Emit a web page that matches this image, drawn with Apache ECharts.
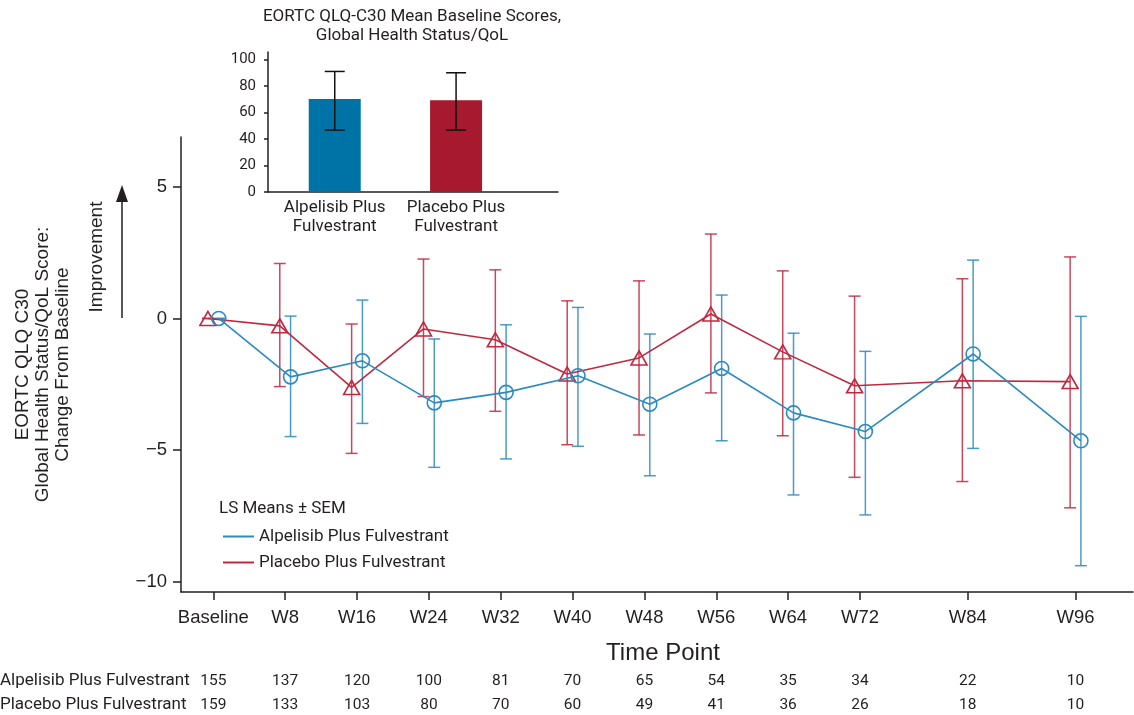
<!DOCTYPE html>
<html>
<head>
<meta charset="utf-8">
<script src="https://cdn.jsdelivr.net/npm/echarts@6/dist/echarts.min.js"></script>
<style>html,body{margin:0;padding:0;background:#fff;}#c{width:1134px;height:715px;}</style>
</head>
<body>
<div id="c"></div>
<script>
// ---- data ----
const weeks = [0, 8, 16, 24, 32, 40, 48, 56, 64, 72, 84, 96];
const timeLabels = ['Baseline', 'W8', 'W16', 'W24', 'W32', 'W40', 'W48', 'W56', 'W64', 'W72', 'W84', 'W96'];
const alpMean  = [0, -2.22, -1.61, -3.21, -2.81, -2.18, -3.26, -1.90, -3.59, -4.30, -1.35, -4.65];
const alpUpper = [0,  0.09,  0.70, -0.78, -0.24,  0.42, -0.59,  0.89, -0.56, -1.25,  2.22,  0.08];
const alpLower = [0, -4.49, -3.99, -5.66, -5.34, -4.86, -5.98, -4.65, -6.71, -7.47, -4.94, -9.40];
const plaMean  = [0, -0.28, -2.62, -0.40, -0.81, -2.11, -1.50,  0.17, -1.27, -2.56, -2.37, -2.40];
const plaUpper = [0,  2.09, -0.21,  2.26,  1.85,  0.67,  1.43,  3.21,  1.81,  0.85,  1.51,  2.34];
const plaLower = [0, -2.59, -5.13, -2.97, -3.53, -4.80, -4.43, -2.83, -4.46, -6.04, -6.20, -7.20];
const alpCounts = [155, 137, 120, 100, 81, 70, 65, 54, 35, 34, 22, 10];
const plaCounts = [159, 133, 103, 80, 70, 60, 49, 41, 36, 26, 18, 10];
const yTicks = [-10, -5, 0, 5];

const insetCats = ['Alpelisib Plus\nFulvestrant', 'Placebo Plus\nFulvestrant'];
const insetMean = [70.2, 69.4];
const insetLow  = [46.8, 46.8];
const insetHigh = [91.1, 90.1];
const insetTicks = [0, 20, 40, 60, 80, 100];

const seriesNames = ['Alpelisib Plus Fulvestrant', 'Placebo Plus Fulvestrant'];

// ---- style ----
const BLUE = '#2b8abf', RED = '#c0283f';
const BAR_BLUE = '#0073a6', BAR_RED = '#a6192e';
const TXT = '#231f20';
const DODGE = 0.6;

function errBars(color, capW, width, opacity) {
  return function (params, api) {
    const x = api.value(0), lo = api.value(1), hi = api.value(2);
    const a = api.coord([x, lo]), b = api.coord([x, hi]);
    const st = { stroke: color, lineWidth: width, opacity: opacity };
    return { type: 'group', children: [
      { type: 'line', shape: { x1: a[0], y1: a[1], x2: b[0], y2: b[1] }, style: st },
      { type: 'line', shape: { x1: a[0] - capW / 2, y1: a[1], x2: a[0] + capW / 2, y2: a[1] }, style: st },
      { type: 'line', shape: { x1: b[0] - capW / 2, y1: b[1], x2: b[0] + capW / 2, y2: b[1] }, style: st }
    ]};
  };
}

const chart = echarts.init(document.getElementById('c'), null, { renderer: 'canvas' });

const option = {
  animation: false,
  backgroundColor: '#fff',
  textStyle: { fontFamily: 'Liberation Sans, Arial, sans-serif', color: TXT },
  grid: [
    { left: 181, right: 1, top: 137, bottom: 123 },
    { left: 268, right: 576, top: 52, bottom: 523 }
  ],
  legend: {
    orient: 'vertical', left: 218, top: 523, itemGap: 9,
    itemWidth: 31, itemHeight: 2, icon: 'rect',
    textStyle: { fontFamily: 'Roboto, sans-serif', fontSize: 17, color: TXT },
    data: [
      { name: seriesNames[0], icon: 'rect', itemStyle: { color: BLUE, borderWidth: 0 } },
      { name: seriesNames[1], icon: 'rect', itemStyle: { color: RED, borderWidth: 0 } }
    ]
  },
  xAxis: [
    {
      type: 'value', gridIndex: 0, min: -3.6, max: 102.4,
      axisLine: { onZero: false, lineStyle: { color: TXT, width: 1.5 } },
      axisTick: { customValues: weeks, length: 8, lineStyle: { color: TXT, width: 1.5 } },
      axisLabel: { customValues: weeks, margin: 16, fontSize: 18.5, color: TXT,
        formatter: v => timeLabels[weeks.indexOf(v)] },
      splitLine: { show: false },
      name: 'Time Point', nameLocation: 'middle', nameGap: 49,
      nameTextStyle: { fontSize: 24, color: TXT, padding: [0, 0, 0, 12] }
    },
    {
      type: 'value', gridIndex: 0, min: -3.6, max: 102.4, position: 'bottom', offset: 89,
      axisLine: { show: false, onZero: false }, axisTick: { show: false }, splitLine: { show: false },
      axisLabel: { customValues: weeks, margin: 0, verticalAlign: 'middle', fontSize: 15.5, color: TXT,
        fontFamily: 'Roboto, sans-serif', formatter: v => String(alpCounts[weeks.indexOf(v)]) }
    },
    {
      type: 'value', gridIndex: 0, min: -3.6, max: 102.4, position: 'bottom', offset: 113,
      axisLine: { show: false, onZero: false }, axisTick: { show: false }, splitLine: { show: false },
      axisLabel: { customValues: weeks, margin: 0, verticalAlign: 'middle', fontSize: 15.5, color: TXT,
        fontFamily: 'Roboto, sans-serif', formatter: v => String(plaCounts[weeks.indexOf(v)]) }
    },
    {
      type: 'value', gridIndex: 1, min: 0.45, max: 2.84,
      axisLine: { onZero: false, lineStyle: { color: TXT, width: 1.5 } },
      axisTick: { show: false }, splitLine: { show: false },
      axisLabel: { customValues: [1, 2], margin: 6, fontSize: 17, lineHeight: 19, color: TXT,
        fontFamily: 'Roboto, sans-serif', formatter: v => insetCats[v - 1] }
    }
  ],
  yAxis: [
    {
      type: 'value', gridIndex: 0, min: -10.4, max: 6.9,
      axisLine: { show: true, onZero: false, lineStyle: { color: TXT, width: 1.5 } },
      axisTick: { show: true, customValues: yTicks, length: 8, lineStyle: { color: TXT, width: 1.5 } },
      axisLabel: { customValues: yTicks, margin: 14, fontSize: 18.5, color: TXT,
        formatter: v => String(v).replace('-', '\u2212') },
      splitLine: { show: false },
      name: 'EORTC QLQ C30\nGlobal Health Status/QoL Score:\nChange From Baseline',
      nameLocation: 'middle', nameRotate: 90, nameGap: 108,
      nameTextStyle: { fontSize: 19, lineHeight: 20, color: TXT, align: 'center' }
    },
    {
      type: 'value', gridIndex: 1, min: 0, max: 105.8,
      axisLine: { show: true, onZero: false, lineStyle: { color: TXT, width: 1.5 } },
      axisTick: { show: true, customValues: insetTicks, length: 4, lineStyle: { color: TXT, width: 1.5 } },
      axisLabel: { customValues: insetTicks, margin: 12, fontSize: 15, color: TXT, fontFamily: 'Roboto, sans-serif' },
      splitLine: { show: false }
    }
  ],
  graphic: [
    { type: 'text', left: 0, top: 672, style: { text: seriesNames[0], font: '17px Roboto, sans-serif', fill: TXT } },
    { type: 'text', left: 0, top: 696, style: { text: seriesNames[1], font: '17px Roboto, sans-serif', fill: TXT } },
    { type: 'text', left: 219, top: 500, style: { text: 'LS Means \u00b1 SEM', font: '17px Roboto, sans-serif', fill: TXT } },
    { type: 'text', x: 97, y: 257, rotation: Math.PI / 2,
      style: { text: 'Improvement', font: '19px "Liberation Sans", Arial, sans-serif', fill: TXT, align: 'center', verticalAlign: 'middle' } },
    { type: 'line', shape: { x1: 122, y1: 318, x2: 122, y2: 198 }, style: { stroke: TXT, lineWidth: 1.5 } },
    { type: 'polygon', shape: { points: [[122, 185], [116, 202], [128, 202]] }, style: { fill: TXT } },
    { type: 'text', x: 412, y: 7, style: { text: 'EORTC QLQ-C30 Mean Baseline Scores,\nGlobal Health Status/QoL',
        font: '17px Roboto, sans-serif', lineHeight: 19, fill: TXT, align: 'center', verticalAlign: 'top' } }
  ],
  series: [
    {
      type: 'custom', name: 'plaErr', xAxisIndex: 0, yAxisIndex: 0, z: 1,
      renderItem: errBars(RED, 12, 1.5, 0.85), encode: { x: 0, y: [1, 2] },
      data: weeks.map((w, i) => [w - DODGE, plaLower[i], plaUpper[i]])
    },
    {
      type: 'custom', name: 'alpErr', xAxisIndex: 0, yAxisIndex: 0, z: 1,
      renderItem: errBars(BLUE, 12, 1.5, 0.85), encode: { x: 0, y: [1, 2] },
      data: weeks.map((w, i) => [w + DODGE, alpLower[i], alpUpper[i]])
    },
    {
      type: 'line', name: seriesNames[1], xAxisIndex: 0, yAxisIndex: 0, z: 3,
      symbol: 'triangle', symbolSize: [16, 14],
      itemStyle: { color: 'rgba(0,0,0,0)', borderColor: RED, borderWidth: 1.6 },
      lineStyle: { color: RED, width: 1.6 },
      data: weeks.map((w, i) => [w - DODGE, plaMean[i]])
    },
    {
      type: 'line', name: seriesNames[0], xAxisIndex: 0, yAxisIndex: 0, z: 4,
      symbol: 'circle', symbolSize: 14,
      itemStyle: { color: 'rgba(0,0,0,0)', borderColor: BLUE, borderWidth: 1.6 },
      lineStyle: { color: BLUE, width: 1.6 },
      data: weeks.map((w, i) => [w + DODGE, alpMean[i]])
    },
    {
      type: 'bar', name: 'inset', xAxisIndex: 3, yAxisIndex: 1, barWidth: 52,
      data: insetMean.map((m, i) => ({ value: [i + 1, m], itemStyle: { color: i === 0 ? BAR_BLUE : BAR_RED } }))
    },
    {
      type: 'custom', name: 'insetErr', xAxisIndex: 3, yAxisIndex: 1, z: 5,
      renderItem: errBars('#111', 20, 1.5, 1), encode: { x: 0, y: [1, 2] },
      data: insetMean.map((m, i) => [i + 1, insetLow[i], insetHigh[i]])
    }
  ]
};
chart.setOption(option);
</script>
</body>
</html>
